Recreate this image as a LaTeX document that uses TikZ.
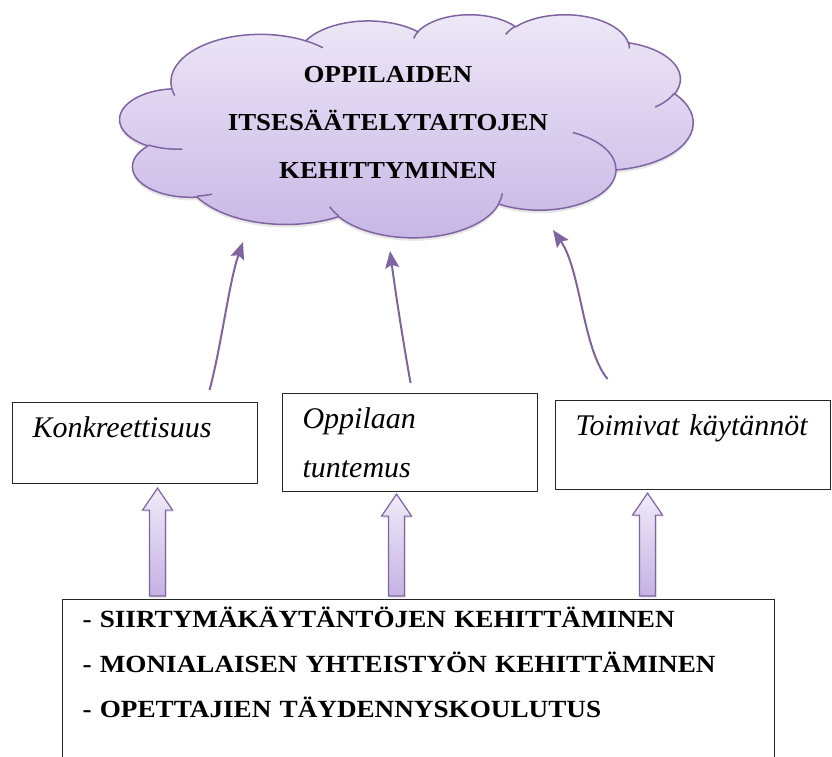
\documentclass[tikz,border=0pt]{standalone}
\usepackage{fontspec}
\setmainfont{Liberation Serif}
\newfontfamily\widefont[FakeStretch=1.1]{Liberation Serif}
\usepackage{xcolor}
\usepackage{tikz}
\usetikzlibrary{arrows.meta, calc, shadows}
\definecolor{LinePurple}{RGB}{128,100,162}
\definecolor{CloudTop}{RGB}{238,232,247}
\definecolor{CloudBottom}{RGB}{199,182,229}
\definecolor{ArrowTop}{RGB}{240,235,249}
\definecolor{ArrowBottom}{RGB}{196,178,227}

% one lobe of the cloud outline (radii, start angle, sweep)
\newcommand\cloudarc[4]{arc[x radius=#1, y radius=#2, start angle={pa(#3,#1,#2)}, delta angle={dd(#3,#4,#1,#2)}]}
% hollow block arrow from #1 (foot) up to #2 (tip)
\newcommand\blockup[2]{\path[blockarrow] ($(#1)+(-8,0)$) -- ($(#2)+(-8,22)$) -- ($(#2)+(-15,22)$) -- (#2) -- ($(#2)+(15,22)$) -- ($(#2)+(8,22)$) -- ($(#1)+(8,0)$) -- cycle;}

\begin{document}
\begin{tikzpicture}[
            x=1pt, y=-1pt,
            declare function={pa(\ang,\rw,\rh)=atan2(\rw*sin(\ang),\rh*cos(\ang));
                dd(\ang,\sw,\rw,\rh)=pa(\ang+\sw,\rw,\rh)-pa(\ang,\rw,\rh)+360*round((\sw-pa(\ang+\sw,\rw,\rh)+pa(\ang,\rw,\rh))/360);},
            cloudshape/.style={draw=LinePurple, line width=1.5pt, top color=CloudTop, bottom color=CloudBottom, drop shadow={shadow xshift=0pt, shadow yshift=-3pt, opacity=0.2}},
            cloudline/.style={draw=LinePurple, line width=1.5pt},
            goaltext/.style={anchor=base, text width=340pt, align=center, inner sep=0pt, font=\widefont\bfseries\fontsize{24.4}{48}\selectfont},
            textbox/.style={draw=black!85, line width=1.1pt, anchor=north west, inner xsep=20pt, inner ysep=0pt, align=left, text height=35pt, font=\fontsize{30}{49}\selectfont\itshape},
            actionbox/.style={draw=black!85, line width=1.1pt, anchor=north west, inner xsep=20pt, inner ysep=0pt, text width=672pt, align=left, text height=28pt, text depth=150pt, font=\widefont\bfseries\fontsize{24.7}{45}\selectfont},
            flow/.style={draw=LinePurple, line width=2pt, -{Stealth[length=17pt, width=14pt, inset=3pt]}},
            blockarrow/.style={draw=LinePurple, line width=1.2pt, top color=ArrowTop, bottom color=ArrowBottom, drop shadow={shadow xshift=1pt, shadow yshift=-2pt, opacity=0.2}}
        ]
            \useasboundingbox (0,0) rectangle (832,756);

            % cloud
            \begin{scope}[shift={(120,14)}, x=1.3264pt, y=-0.5162pt]
                \path[cloudshape] (39.00,143.70)
                    \cloudarc{67.53}{91.90}{-190.4875}{123.7805}
                    \cloudarc{53.33}{72.67}{-144.1024}{89.9452}
                    \cloudarc{43.65}{59.45}{-145.8079}{99.7230}
                    \cloudarc{48.57}{65.95}{-130.9861}{117.2417}
                    \cloudarc{53.33}{72.73}{-78.7089}{109.0269}
                    \cloudarc{67.75}{92.20}{-46.2673}{130.2690}
                    \cloudarc{57.85}{78.67}{0.6250}{114.0333}
                    \cloudarc{67.52}{92.15}{22.4516}{115.1726}
                    \cloudarc{77.20}{105.43}{66.2426}{75.7110}
                    \cloudarc{43.60}{59.18}{-274.9421}{146.7356}
                    \cloudarc{43.45}{59.45}{-246.8285}{152.5189} -- cycle;
                \draw[cloudline]
                    (46.93,261.77) \cloudarc{43.45}{59.45}{86.7420}{26.4295}
                    (69.28,348.99) \cloudarc{43.60}{59.18}{73.6105}{11.4475}
                    (164.78,390.90) \cloudarc{67.52}{92.15}{137.6242}{14.0811}
                    (288.27,347.51) \cloudarc{67.52}{92.15}{6.4533}{15.9984}
                    (341.29,229.54) \cloudarc{57.85}{78.67}{-70.2924}{70.9174}
                    (417.98,153.54) \cloudarc{53.33}{72.73}{30.3180}{27.7515}
                    (383.24,54.26) \cloudarc{48.57}{65.95}{-13.7443}{14.8589}
                    (290.78,39.52) \cloudarc{48.57}{65.95}{-149.1815}{18.1954}
                    (221.41,47.20) \cloudarc{43.65}{59.45}{-163.4943}{17.6864}
                    (140.00,51.92) \cloudarc{67.53}{91.90}{-66.7070}{12.3194}
                    (41.27,157.89) \cloudarc{67.53}{91.90}{157.6544}{11.8582};
            \end{scope}

            \node[goaltext] (goal) at (388,82.7) {OPPILAIDEN\\ITSESÄÄTELYTAITOJEN\\KEHITTYMINEN};

            \node[textbox, text width=205pt, text depth=46pt] (konkr) at (12,402) {Konkreettisuus};
            \node[textbox, text width=215pt, text depth=63pt] (tuntemus) at (282,393) {Oppilaan\\tuntemus};
            \node[textbox, text width=235pt, text depth=54pt] (kaytannot) at (555,400) {Toimivat käytännöt};

            \node[actionbox] (actions) at (62,599) {- SIIRTYMÄKÄYTÄNTÖJEN KEHITTÄMINEN\\- MONIALAISEN YHTEISTYÖN KEHITTÄMINEN\\- OPETTAJIEN TÄYDENNYSKOULUTUS};

            % where the curved arrows meet the cloud
            \coordinate (in1) at (243,242);
            \coordinate (in2) at (390,251);
            \coordinate (in3) at (553,230);

            \draw[flow] ([xshift=74.5pt, yshift=12pt]konkr.north) .. controls +(12,-45) and +(-14,40) .. (in1);
            \draw[flow] ([xshift=0.5pt, yshift=10pt]tuntemus.north) .. controls +(-8,-45) and +(6,45) .. (in2);
            \draw[flow] ([xshift=-85.5pt, yshift=21pt]kaytannot.north) .. controls +(-25,-30) and +(28,40) .. (in3);

            % block arrows up from the bottom box
            \coordinate (tip1) at ([xshift=22.5pt, yshift=-4pt]konkr.south);
            \coordinate (tip2) at ([xshift=-13.5pt, yshift=-2pt]tuntemus.south);
            \coordinate (tip3) at ([xshift=-45.5pt, yshift=-3pt]kaytannot.south);
            \foreach \i in {1,2,3} {
                \coordinate (foot\i) at ($(tip\i |- actions.north)+(0,-3)$);
                \blockup{foot\i}{tip\i}
            }

        \end{tikzpicture}
\end{document}
